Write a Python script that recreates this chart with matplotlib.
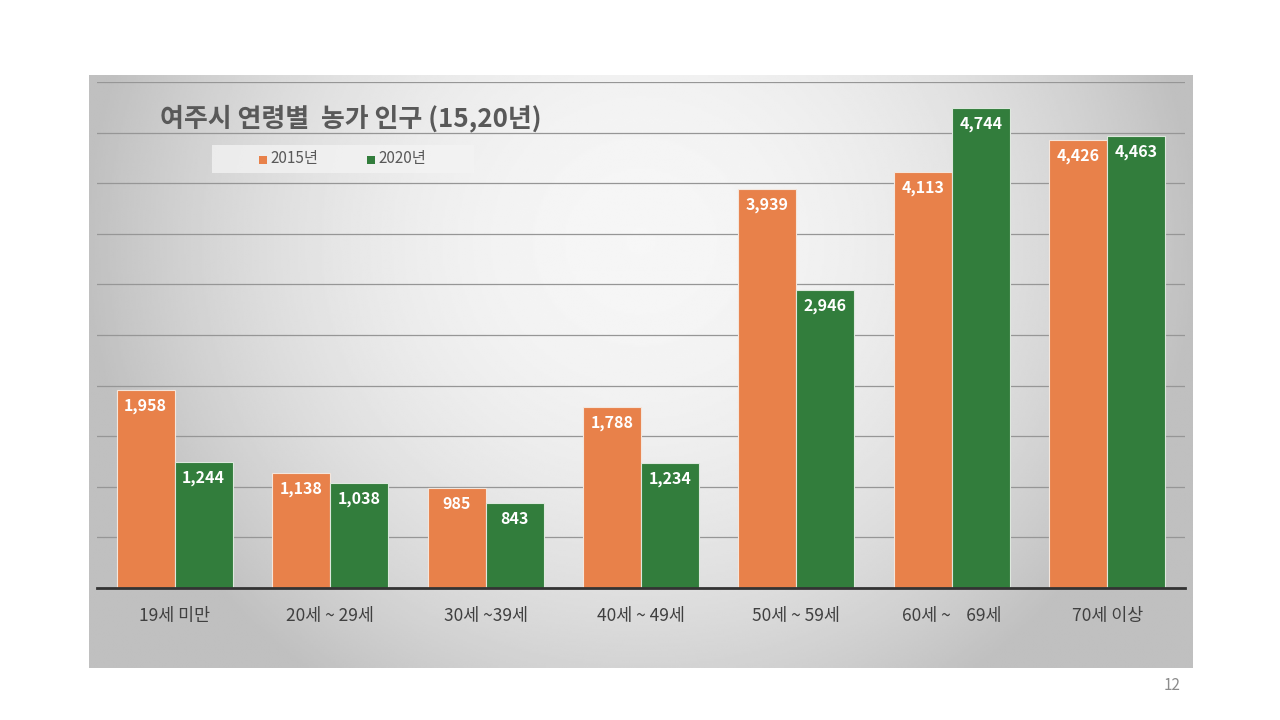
import numpy as np
import matplotlib
matplotlib.use("Agg")
import matplotlib.pyplot as plt
from matplotlib.patches import Rectangle

plt.rcParams['font.family'] = ['Noto Sans CJK KR', 'DejaVu Sans']

# data
categories = ['19세 미만', '20세 ~ 29세', '30세 ~39세', '40세 ~ 49세',
              '50세 ~ 59세', '60세 ~    69세', '70세 이상']
pop_2015 = [1958, 1138, 985, 1788, 3939, 4113, 4426]
pop_2020 = [1244, 1038, 843, 1234, 2946, 4744, 4463]
series_names = ['2015년', '2020년']

orange = '#E8814A'
green = '#327D3C'
text_gray = '#595959'

fig = plt.figure(figsize=(12.8, 7.2), dpi=100)
fig.patch.set_facecolor('white')

# gradient panel behind the chart
bg = fig.add_axes([89 / 1280, 52 / 720, 1104 / 1280, 593 / 720])
yy, xx = np.mgrid[0:1:300j, 0:1:600j]
dx = (xx - 0.5) / 0.5
dy = (yy - 0.28) / 0.9
r2 = dx ** 2 + dy ** 2
shade = np.clip(0.965 - 0.21 * r2, 0.75, 1)
bg.imshow(shade, cmap='gray', vmin=0, vmax=1, aspect='auto',
          extent=[0, 1, 1, 0], interpolation='bilinear')
bg.set_axis_off()

ax = fig.add_axes([97 / 1280, 132 / 720, 1088 / 1280, 506 / 720])
ax.patch.set_alpha(0)

x = np.arange(len(categories))
w = 0.373
b1 = ax.bar(x - w / 2, pop_2015, w, color=orange, edgecolor='#f4e6dc',
            linewidth=0.8, zorder=3)
b2 = ax.bar(x + w / 2, pop_2020, w, color=green, edgecolor='#dde8dd',
            linewidth=0.8, zorder=3)

for bars, vals in ((b1, pop_2015), (b2, pop_2020)):
    for rect, v in zip(bars, vals):
        ax.annotate(f'{v:,}', (rect.get_x() + rect.get_width() / 2, v),
                    xytext=(0, -11.5), textcoords='offset points',
                    ha='center', va='center', color='white',
                    fontsize=11.5, fontweight='bold', zorder=4)

ax.set_xlim(-0.5, 6.5)
ax.set_ylim(0, 5000)
ax.set_yticks(np.arange(0, 5001, 500))
ax.yaxis.grid(True, color='#969696', linewidth=0.9, zorder=0)
ax.set_axisbelow(True)
ax.tick_params(axis='y', left=False, labelleft=False)
ax.tick_params(axis='x', bottom=False, labelsize=12.5, labelcolor='#404040', pad=10)
ax.set_xticks(x)
ax.set_xticklabels(categories)
for s in ['top', 'right', 'left']:
    ax.spines[s].set_visible(False)
ax.spines['bottom'].set_color('#333333')
ax.spines['bottom'].set_linewidth(2)
ax.spines['bottom'].set_zorder(5)

fig.text(160 / 1280, 1 - 118 / 720, '여주시 연령별  농가 인구 (15,20년)',
         fontsize=18.7, fontweight='bold', color=text_gray, va='center', ha='left')

# legend box drawn by hand to match the reference placement
fig.patches.append(Rectangle((212 / 1280, 1 - 173 / 720), 262 / 1280, 28 / 720,
                             transform=fig.transFigure, facecolor='#f4f4f4',
                             alpha=0.75, edgecolor='none'))
legend_x = [259, 367]
for name, col, lx in zip(series_names, [orange, green], legend_x):
    fig.patches.append(Rectangle((lx / 1280, 1 - 163.5 / 720), 8 / 1280, 8 / 720,
                                 transform=fig.transFigure, facecolor=col,
                                 edgecolor='none'))
    fig.text((lx + 11) / 1280, 1 - 159 / 720, name, fontsize=11,
             color=text_gray, va='center', ha='left')

fig.text(1172 / 1280, 1 - 686 / 720, '12', fontsize=11, color='#8c8c8c',
         ha='center', va='center')

fig.savefig('out.png', dpi=100)
